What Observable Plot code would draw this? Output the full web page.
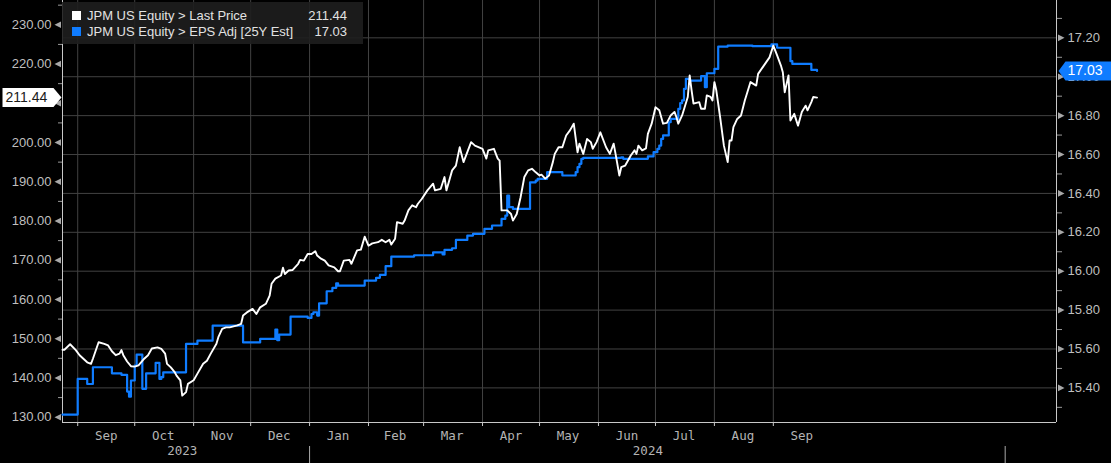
<!DOCTYPE html>
<html><head><meta charset="utf-8">
<script src="https://cdn.jsdelivr.net/npm/d3@7"></script>
<script src="https://cdn.jsdelivr.net/npm/@observablehq/plot@0.6"></script>
<style>
html,body{margin:0;padding:0;background:#000;}
#wrap{position:relative;width:1111px;height:463px;background:#000;overflow:hidden;}
#legend{position:absolute;left:62px;top:2px;width:301px;height:42px;background:rgba(30,30,30,0.9);font:13px "Liberation Sans",Arial,sans-serif;color:#e2e2e2;}
.row{position:absolute;left:0;right:0;height:16px;line-height:16px;white-space:nowrap;}
.sw{position:absolute;left:10px;top:3.5px;width:9px;height:9px;}
.name{position:absolute;left:25px;}
.val{position:absolute;right:16px;}
</style></head><body>
<div id="wrap"><div id="chart"></div><div id="legend"></div></div>
<script>
// ---- data ----
const priceDates = ["2023-08-24","2023-08-25","2023-08-28","2023-08-31","2023-09-02","2023-09-06","2023-09-08","2023-09-09","2023-09-12","2023-09-15","2023-09-17","2023-09-19","2023-09-21","2023-09-23","2023-09-24","2023-09-25","2023-09-27","2023-09-29","2023-10-01","2023-10-03","2023-10-06","2023-10-08","2023-10-10","2023-10-13","2023-10-15","2023-10-17","2023-10-18","2023-10-20","2023-10-22","2023-10-23","2023-10-25","2023-10-26","2023-10-28","2023-10-29","2023-11-01","2023-11-03","2023-11-06","2023-11-08","2023-11-10","2023-11-13","2023-11-14","2023-11-16","2023-11-18","2023-11-20","2023-11-24","2023-11-26","2023-11-27","2023-11-29","2023-12-02","2023-12-04","2023-12-06","2023-12-09","2023-12-11","2023-12-12","2023-12-14","2023-12-17","2023-12-18","2023-12-19","2023-12-21","2023-12-23","2023-12-26","2023-12-27","2023-12-29","2023-12-31","2024-01-02","2024-01-04","2024-01-05","2024-01-07","2024-01-09","2024-01-11","2024-01-14","2024-01-16","2024-01-17","2024-01-19","2024-01-22","2024-01-23","2024-01-26","2024-01-28","2024-01-30","2024-02-01","2024-02-03","2024-02-06","2024-02-08","2024-02-10","2024-02-12","2024-02-13","2024-02-15","2024-02-16","2024-02-19","2024-02-20","2024-02-22","2024-02-24","2024-02-26","2024-02-27","2024-02-29","2024-03-03","2024-03-06","2024-03-07","2024-03-10","2024-03-12","2024-03-13","2024-03-16","2024-03-18","2024-03-20","2024-03-22","2024-03-26","2024-03-28","2024-04-01","2024-04-03","2024-04-04","2024-04-07","2024-04-09","2024-04-10","2024-04-11","2024-04-14","2024-04-16","2024-04-17","2024-04-19","2024-04-21","2024-04-23","2024-04-25","2024-04-27","2024-04-29","2024-05-01","2024-05-02","2024-05-04","2024-05-06","2024-05-08","2024-05-09","2024-05-11","2024-05-13","2024-05-15","2024-05-17","2024-05-19","2024-05-21","2024-05-22","2024-05-24","2024-05-26","2024-05-28","2024-05-29","2024-05-31","2024-06-02","2024-06-05","2024-06-07","2024-06-09","2024-06-10","2024-06-12","2024-06-13","2024-06-15","2024-06-18","2024-06-20","2024-06-21","2024-06-22","2024-06-24","2024-06-26","2024-06-27","2024-06-29","2024-07-01","2024-07-03","2024-07-05","2024-07-07","2024-07-09","2024-07-11","2024-07-12","2024-07-13","2024-07-15","2024-07-18","2024-07-19","2024-07-20","2024-07-21","2024-07-24","2024-07-25","2024-07-27","2024-07-28","2024-07-30","2024-07-31","2024-08-01","2024-08-02","2024-08-04","2024-08-06","2024-08-08","2024-08-09","2024-08-10","2024-08-11","2024-08-13","2024-08-15","2024-08-17","2024-08-20","2024-08-23","2024-08-24","2024-08-27","2024-08-30","2024-09-01","2024-09-03","2024-09-05","2024-09-06","2024-09-07","2024-09-09","2024-09-10","2024-09-12","2024-09-14","2024-09-16","2024-09-18","2024-09-19","2024-09-21","2024-09-22","2024-09-24"];
const priceValues = [147.2,147.2,148.6,147.1,145.8,144.0,143.6,144.9,149.1,148.7,148.3,146.8,145.8,146.2,147.1,145.8,144.2,143.0,142.9,143.2,144.9,145.8,147.5,147.8,147.4,146.2,143.6,142.7,141.5,140.6,139.4,135.5,136.4,138.5,139.4,141.1,143.6,144.4,146.2,148.7,150.4,152.5,152.9,152.9,153.4,153.8,155.9,156.7,157.6,156.3,158.0,158.9,161.0,164.0,165.3,166.1,168.1,166.5,167.4,167.5,169.1,170.1,169.9,171.6,171.6,172.3,171.2,170.4,169.9,168.7,168.2,167.2,167.2,169.9,170.1,169.1,172.5,172.7,176.0,173.7,174.3,174.6,175.2,174.6,175.2,174.0,175.5,179.7,179.3,180.1,182.7,184.0,183.5,184.4,185.6,187.8,189.5,187.8,188.2,191.2,187.8,192.9,194.1,198.8,195.0,200.1,199.2,198.4,195.9,198.0,198.4,195.9,195.4,182.7,182.7,181.8,180.1,181.8,186.0,191.2,192.9,193.3,192.4,191.6,191.8,190.8,191.6,195.0,197.1,198.8,198.8,201.8,203.1,204.8,197.5,199.7,197.1,200.9,200.1,198.4,200.1,202.6,198.8,197.1,199.7,197.1,191.6,193.7,194.1,196.7,198.0,197.1,199.2,198.0,198.5,202.2,204.8,209.0,208.2,204.8,205.0,206.9,207.8,206.5,204.8,206.9,211.6,217.1,213.3,209.9,210.3,208.6,208.6,212.0,211.6,210.7,215.4,213.3,206.5,199.2,195.0,200.5,200.5,203.9,206.0,206.9,210.7,215.4,214.5,217.5,219.6,221.7,224.7,222.2,219.6,217.9,212.8,217.1,205.6,207.3,204.3,207.8,209.4,208.2,210.3,211.6,211.44];

const epsDates = ["2023-08-24","2023-09-01","2023-09-06","2023-09-09","2023-09-19","2023-09-24","2023-09-27","2023-09-28","2023-09-29","2023-10-01","2023-10-02","2023-10-05","2023-10-07","2023-10-12","2023-10-14","2023-10-15","2023-10-16","2023-10-28","2023-11-03","2023-11-11","2023-11-27","2023-12-06","2023-12-14","2023-12-15","2023-12-16","2023-12-22","2023-12-31","2024-01-02","2024-01-03","2024-01-05","2024-01-06","2024-01-10","2024-01-13","2024-01-15","2024-01-16","2024-01-30","2024-02-05","2024-02-07","2024-02-10","2024-02-13","2024-02-25","2024-03-06","2024-03-11","2024-03-12","2024-03-16","2024-03-18","2024-03-24","2024-03-27","2024-04-02","2024-04-06","2024-04-11","2024-04-13","2024-04-14","2024-04-15","2024-04-17","2024-04-26","2024-04-29","2024-04-30","2024-05-05","2024-05-13","2024-05-20","2024-05-21","2024-05-22","2024-05-23","2024-05-24","2024-06-13","2024-06-14","2024-06-27","2024-06-30","2024-07-02","2024-07-03","2024-07-04","2024-07-05","2024-07-08","2024-07-09","2024-07-13","2024-07-14","2024-07-15","2024-07-16","2024-07-17","2024-07-19","2024-07-25","2024-07-27","2024-07-28","2024-08-01","2024-08-03","2024-08-08","2024-08-21","2024-08-31","2024-09-03","2024-09-10","2024-09-11","2024-09-21","2024-09-24"];
const epsValues = [15.263,15.446,15.42,15.506,15.475,15.467,15.381,15.355,15.438,15.515,15.571,15.395,15.475,15.529,15.446,15.455,15.48,15.626,15.643,15.72,15.634,15.652,15.70,15.645,15.674,15.766,15.76,15.78,15.789,15.772,15.835,15.897,15.914,15.938,15.926,15.952,15.966,15.981,16.026,16.075,16.082,16.097,16.086,16.11,16.118,16.161,16.183,16.192,16.218,16.235,16.269,16.286,16.389,16.33,16.32,16.457,16.466,16.475,16.509,16.492,16.509,16.535,16.552,16.578,16.583,16.586,16.578,16.59,16.612,16.629,16.646,16.68,16.698,16.766,16.783,16.835,16.864,16.878,16.938,16.989,16.98,17.003,16.946,17.018,17.04,17.155,17.16,17.157,17.166,17.149,17.08,17.066,17.035,17.03];

const seriesNames = ["JPM US Equity > Last Price", "JPM US Equity > EPS Adj [25Y Est]"];
const seriesColors = ["#ffffff", "#0f7cff"];

const leftTicks = [130,140,150,160,170,180,190,200,210,220,230];
const leftMinor = [135,145,155,165,175,185,195,205,215,225,235];
const rightTicks = [15.4,15.6,15.8,16.0,16.2,16.4,16.6,16.8,17.0,17.2];
const rightMinor = [15.3,15.5,15.7,15.9,16.1,16.3,16.5,16.7,16.9,17.1,17.3];
const monthStarts = ["2023-09-01","2023-10-01","2023-11-01","2023-12-01","2024-01-01","2024-02-01","2024-03-01","2024-04-01","2024-05-01","2024-06-01","2024-07-01","2024-08-01","2024-09-01"];
const monthLabelDates = ["2023-09-16","2023-10-16","2023-11-16","2023-12-16","2024-01-16","2024-02-15","2024-03-16","2024-04-16","2024-05-16","2024-06-16","2024-07-16","2024-08-16","2024-09-16"];
const monthLabels = ["Sep","Oct","Nov","Dec","Jan","Feb","Mar","Apr","May","Jun","Jul","Aug","Sep"];
const yearLabelDates = ["2023-10-26","2024-06-27"];
const yearLabels = ["2023","2024"];
const yearStarts = ["2024-01-01","2025-01-01"];

// ---- build ----
const parse = d3.utcParse("%Y-%m-%d");
const price = priceDates.map((d,i)=>({date: parse(d), value: priceValues[i]}));
const eps = epsDates.map((d,i)=>({date: parse(d), value: epsValues[i]}));
const lastPrice = priceValues[priceValues.length-1];
const lastEps = epsValues[epsValues.length-1];

const xDomain = [parse("2023-08-24"), parse("2025-01-28")];
const yDomain = [128.65, 236.19];
const epsDomain = [15.222, 17.392];
const e2p = d3.scaleLinear(epsDomain, yDomain);

const grid = "#424242", axisCol = "#c8c8c8", label = "#bfbfbf";
const monoFont = "'DejaVu Sans Mono', 'Liberation Mono', monospace";
const triLeft = {draw(c){c.moveTo(-3.5,0);c.lineTo(3,-3.3);c.lineTo(3,3.3);c.closePath();}};
const triRight = {draw(c){c.moveTo(3.5,0);c.lineTo(-3,-3.3);c.lineTo(-3,3.3);c.closePath();}};
const tagLeft = {draw(c){c.moveTo(-1,0);c.lineTo(-9,-9.5);c.lineTo(-60,-9.5);c.lineTo(-60,9.5);c.lineTo(-9,9.5);c.closePath();}};
const tagRight = {draw(c){c.moveTo(2,0);c.lineTo(9,-9.5);c.lineTo(56,-9.5);c.lineTo(56,9.5);c.lineTo(9,9.5);c.closePath();}};

const chart = Plot.plot({
  width: 1111, height: 463,
  marginLeft: 62, marginRight: 55, marginTop: 0, marginBottom: 41,
  style: {background: "#000", color: label, fontFamily: "'Liberation Sans', Arial, sans-serif", fontSize: "13px"},
  x: {type: "utc", domain: xDomain},
  y: {domain: yDomain},
  marks: [
    Plot.gridY(rightTicks.map(e2p), {stroke: grid, strokeOpacity: 1}),
    Plot.gridX(monthStarts.map(parse), {stroke: grid, strokeOpacity: 1}),
    Plot.ruleY([yDomain[0]], {stroke: axisCol}),
    Plot.ruleX(xDomain, {stroke: axisCol}),
    // left axis
    Plot.axisY(leftTicks, {anchor: "left", tickSize: 0, tickPadding: 11, tickFormat: d => d.toFixed(2), label: null, fill: label}),
    Plot.axisY(leftMinor, {anchor: "left", tickSize: 4, tickFormat: () => "", label: null, stroke: "#9a9a9a"}),
    Plot.dot(leftTicks, {y: d => d, frameAnchor: "left", dx: -4.5, symbol: triLeft, r: 3, fill: "#a8a8a8"}),
    // right axis
    Plot.axisY(rightTicks.map(e2p), {anchor: "right", tickSize: 0, tickPadding: 11, tickFormat: p => e2p.invert(p).toFixed(2), label: null, fill: label}),
    Plot.axisY(rightMinor.map(e2p), {anchor: "right", tickSize: 5, tickFormat: () => "", label: null, stroke: "#9a9a9a"}),
    Plot.dot(rightTicks, {y: d => e2p(d), frameAnchor: "right", dx: 4.5, symbol: triRight, r: 3, fill: "#a8a8a8"}),
    // bottom axis
    Plot.axisX(monthStarts.map(parse), {anchor: "bottom", tickSize: 4, tickFormat: () => "", label: null, stroke: axisCol}),
    Plot.text(monthLabelDates, {x: d => parse(d), text: (d,i) => monthLabels[i], frameAnchor: "bottom", dy: 17, fill: "#b4b4b4", fontFamily: monoFont, fontSize: 12.5}),
    Plot.text(yearLabelDates, {x: d => parse(d), text: (d,i) => yearLabels[i], frameAnchor: "bottom", dy: 32, fill: "#b4b4b4", fontFamily: monoFont, fontSize: 12.5}),
    Plot.axisX(yearStarts.map(parse), {anchor: "bottom", tickSize: 17, dy: 24, tickFormat: () => "", label: null, stroke: "#aaaaaa"}),
    // series
    Plot.line(eps, {x: "date", y: d => e2p(d.value), curve: "step-after", stroke: seriesColors[1], strokeWidth: 2.2}),
    Plot.line(price, {x: "date", y: "value", stroke: seriesColors[0], strokeWidth: 1.9}),
    // last value tags
    Plot.dot([lastPrice], {y: d => d, frameAnchor: "left", symbol: tagLeft, r: 5, fill: "#ffffff"}),
    Plot.text([lastPrice], {y: d => d, frameAnchor: "left", dx: -57, textAnchor: "start", text: d => d.toFixed(2), fill: "#1a1a1a", fontSize: 14}),
    Plot.dot([lastEps], {y: d => e2p(d), frameAnchor: "right", symbol: tagRight, r: 5, fill: seriesColors[1]}),
    Plot.text([lastEps], {y: d => e2p(d), frameAnchor: "right", dx: 11, textAnchor: "start", text: d => d.toFixed(2), fill: "#ffffff", fontSize: 14})
  ]
});
document.getElementById("chart").appendChild(chart);

// legend
const lastVals = [lastPrice, lastEps];
const leg = document.getElementById("legend");
seriesNames.forEach((n, i) => {
  const row = document.createElement("div");
  row.className = "row";
  row.style.top = (5.5 + i * 16.2) + "px";
  row.innerHTML = `<span class="sw" style="background:${seriesColors[i]}"></span><span class="name">${n.replace(/>/g,"&gt;")}</span><span class="val">${lastVals[i].toFixed(2)}</span>`;
  leg.appendChild(row);
});
</script></body></html>
